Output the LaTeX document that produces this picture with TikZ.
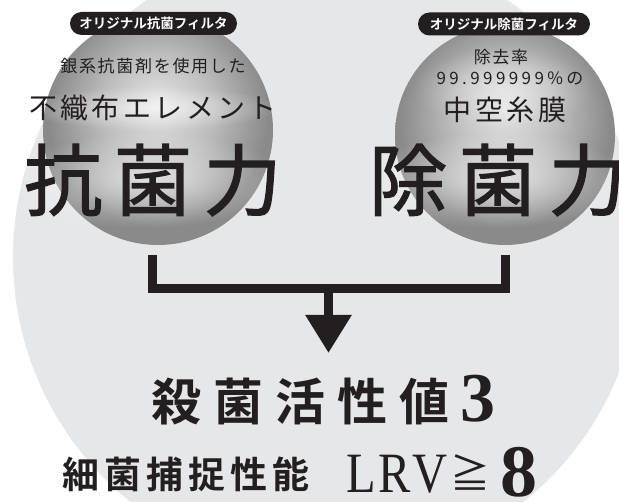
\documentclass[tikz,border=0pt]{standalone}
\usepackage{fontspec}
\usepackage{xcolor}
\usetikzlibrary{arrows.meta}
\usetikzlibrary{fadings}
\newfontfamily\gothic{Noto Sans CJK JP}
\newfontfamily\gothicbold{Noto Sans CJK JP Bold}
\newfontfamily\serifnum{Liberation Serif}
\definecolor{ink}{HTML}{231F20}
\definecolor{backdrop}{HTML}{E6E7E8}
\definecolor{sphlight}{HTML}{E4E4E4}
\definecolor{sphmid}{HTML}{BDBDBD}
\definecolor{sphdark}{HTML}{8A8A8A}
\pgfdeclareradialshading{spheregray}{\pgfpoint{0bp}{6bp}}{%
  color(0bp)=(sphlight); color(12bp)=(sphmid); color(24bp)=(sphdark);
  color(26bp)=(sphdark); color(50bp)=(sphdark)}
\tikzfading[name=glowfade, inner color=transparent!0, outer color=transparent!100]

\begin{document}
\begin{tikzpicture}[x=1pt, y=-1pt,
      sphere/.style={circle, inner sep=0pt, shade, shading=spheregray},
      glow/.style={white, path fading=glowfade},
      tag/.style={rectangle, rounded corners=11.5pt, fill=ink, text=white, inner sep=0pt,
        minimum height=23pt, font=\gothicbold\fontsize{13.5pt}{13.5pt}\selectfont},
      type-small/.style={text=ink, inner sep=0pt,
        font=\gothic\fontsize{17pt}{17pt}\selectfont\addfontfeature{LetterSpace=10}},
      type-mid/.style={text=ink, inner sep=0pt,
        font=\gothic\fontsize{28pt}{28pt}\selectfont\addfontfeature{LetterSpace=12}},
      type-big/.style={text=ink, inner sep=0pt,
        font=\gothic\fontsize{78pt}{78pt}\selectfont\addfontfeature{LetterSpace=15,FakeBold=1.6}},
      type-result/.style={text=ink, inner sep=0pt,
        font=\gothicbold\fontsize{50pt}{50pt}\selectfont\addfontfeature{LetterSpace=24}},
      type-capture/.style={text=ink, inner sep=0pt,
        font=\gothicbold\fontsize{37pt}{37pt}\selectfont\addfontfeature{LetterSpace=14}},
      type-latin/.style={text=ink, inner sep=0pt},
      bracket/.style={draw=ink, line width=9pt, line join=miter}
    ]
      \useasboundingbox (0,0) rectangle (619,502);
      \clip (0,0) rectangle (619,502);
      \fill[backdrop] (327,257) circle (314pt);

      \node[sphere, minimum size=230pt] (lsphere) at (158,130) {};
      \node[sphere, minimum size=220pt] (rsphere) at (505,135) {};
      \fill[glow, opacity=.55] (150,108) ellipse [x radius=130pt, y radius=22pt];
      \fill[glow, opacity=.6] (147,180) ellipse [x radius=140pt, y radius=48pt];
      \fill[glow, opacity=.4] (503,88) ellipse [x radius=90pt, y radius=40pt];
      \fill[glow, opacity=.6] (497,180) ellipse [x radius=135pt, y radius=48pt];

      \node[tag, minimum width=167pt] (ltag) at (153.5,23.5) {オリジナル抗菌フィルタ};
      \node[tag, minimum width=172pt] (rtag) at (504,24) {オリジナル除菌フィルタ};

      \node[type-small] (lsub) at (153,66) {銀系抗菌剤を使用した};
      \node[type-mid] (lname) at (153,108) {不織布エレメント};
      \node[type-big] (lpower) at (153,180) {抗菌力};
      \node[type-small] (rrate) at (501,57) {除去率};
      \node[type-small, font=\gothic\fontsize{17pt}{17pt}\selectfont\addfontfeature{LetterSpace=20}]
        (rvalue) at (510,78) {99.999999\%の};
      \node[type-mid] (rname) at (505,110) {中空糸膜};
      \node[type-big] (rpower) at (498,180) {除菌力};

      \coordinate (ldrop) at (152.5,255);
      \coordinate (rdrop) at (505,255);
      \coordinate (merge) at (328.5,288.5);
      \coordinate (tip) at (328.5,353);
      \draw[bracket] (ldrop) |- (merge) -| (rdrop);
      \draw[bracket, -{Triangle[width=44pt,length=38pt]}, fill=ink] (merge) -- (tip);

      \node[type-result] (kill) at (300,402) {殺菌活性値};
      \node[type-latin, font=\serifnum\bfseries\fontsize{70pt}{70pt}\selectfont] (three) at (478,399) {3};
      \node[type-capture] (catch) at (186,474) {細菌捕捉性能};
      \node[type-latin, xscale=.85,
        font=\serifnum\fontsize{57pt}{57pt}\selectfont\addfontfeature{Kerning=Off,LetterSpace=5}] (lrv) at (397,474) {LRV};
      \node[type-latin, font=\gothic\fontsize{40pt}{40pt}\selectfont] (geq) at (470,473) {≧};
      \node[type-latin, font=\serifnum\bfseries\fontsize{74pt}{74pt}\selectfont] (eight) at (519,472) {8};
    \end{tikzpicture}
\end{document}
